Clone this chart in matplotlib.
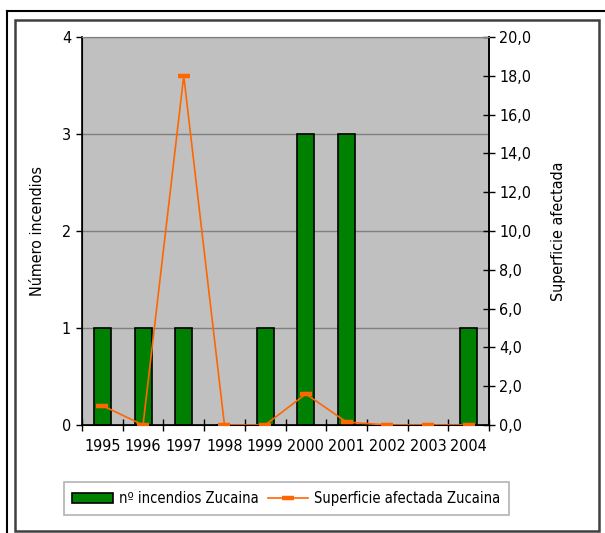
import matplotlib
matplotlib.use("Agg")
import matplotlib.pyplot as plt
from matplotlib import font_manager
from matplotlib.patches import Rectangle
from matplotlib.lines import Line2D
import numpy as np

# data
years = ["1995", "1996", "1997", "1998", "1999", "2000", "2001", "2002", "2003", "2004"]
n_fires = [1, 1, 1, 0, 1, 3, 3, 0, 0, 1]
area = [1.0, 0.0, 18.0, 0.0, 0.0, 1.6, 0.15, 0.0, 0.0, 0.0]
left_ticks = [0, 1, 2, 3, 4]
right_ticks = [0, 2, 4, 6, 8, 10, 12, 14, 16, 18, 20]

GREEN = "#008000"
ORANGE = "#FF6600"
BG = "#C0C0C0"

# the original uses a narrow Arial; pick a condensed face if one is installed
fam, stretch, FS, LFS = "Liberation Sans", "normal", 11, 10
for f in font_manager.fontManager.ttflist:
    narrow = ("Narrow" in f.name or "Condensed" in f.name
              or str(f.stretch) in ("condensed", "semi-condensed"))
    if narrow and "Sans" in f.name and f.style == "normal":
        fam, stretch, FS, LFS = f.name, f.stretch, 11.5, 10.5
        break
plt.rcParams["font.family"] = [fam, "DejaVu Sans"]
plt.rcParams["font.stretch"] = stretch

W, H = 605, 533
fig = plt.figure(figsize=(W / 100, H / 100), dpi=100)

# outer frame lines + inner box
fig.add_artist(Line2D([6.5 / W, 6.5 / W], [0, 1 - 11 / H], color="black", lw=1.5))
fig.add_artist(Line2D([6.5 / W, 1], [1 - 11 / H, 1 - 11 / H], color="black", lw=1.5))
fig.add_artist(Rectangle((14.5 / W, 1 - 531 / H), (599 - 14.5) / W, (531 - 20) / H,
                         fill=False, edgecolor="#404040", lw=1.8))

x0, x1, y0, y1 = 82, 489, 37, 425
ax = fig.add_axes([x0 / W, 1 - y1 / H, (x1 - x0) / W, (y1 - y0) / H])
ax.set_facecolor(BG)
x = np.arange(len(years))

ax.bar(x, n_fires, width=0.42, color=GREEN, edgecolor="black", lw=1.2, zorder=2)
ax.set_xlim(-0.5, len(years) - 0.5)
ax.set_ylim(0, 4)
ax.set_yticks(left_ticks)
ax.set_yticklabels([str(t) for t in left_ticks], fontsize=FS)
ax.yaxis.grid(True, color="#808080", lw=1)
ax.set_axisbelow(True)
ax.tick_params(axis="y", direction="out", length=4, width=1, pad=4)

# x: ticks between categories, labels centred
ax.set_xticks(np.arange(-0.5, len(years), 1.0))
ax.set_xticklabels([])
ax.set_xticks(x, minor=True)
ax.set_xticklabels(years, minor=True, fontsize=FS)
ax.tick_params(axis="x", which="major", direction="inout", length=9, width=1)
ax.tick_params(axis="x", which="minor", length=0, pad=10)

ax.set_ylabel("Número incendios", fontsize=FS, labelpad=12)
for s in ("left", "bottom", "right"):
    ax.spines[s].set_color("black")
    ax.spines[s].set_linewidth(1.2)
ax.spines["top"].set_color("#808080")

ax2 = ax.twinx()
ax2.plot(x, area, color=ORANGE, lw=1.2, marker="_", ms=9, mew=3.2, zorder=3)
ax2.set_ylim(0, 20)
ax2.set_yticks(right_ticks)
ax2.set_yticklabels([f"{t:.1f}".replace(".", ",") for t in right_ticks], fontsize=FS)
ax2.tick_params(axis="y", direction="inout", length=9, width=1, pad=3)
ax2.set_ylabel("Superficie afectada", fontsize=FS, labelpad=14)
ax2.spines["right"].set_color("black")
ax2.spines["right"].set_linewidth(1.2)
ax2.spines["top"].set_color("#808080")

handles = [Rectangle((0, 0), 1, 1, facecolor=GREEN, edgecolor="black", lw=1.2),
           Line2D([], [], color=ORANGE, lw=1.2, marker="_", ms=9, mew=3.2)]
leg = fig.legend(handles, ["nº incendios Zucaina", "Superficie afectada Zucaina"],
                 loc="center", bbox_to_anchor=(286.5 / W, 1 - 498.5 / H), ncol=2,
                 fontsize=LFS, frameon=True, fancybox=False, borderpad=0.6,
                 handlelength=2.8, columnspacing=0.6, handletextpad=0.4)
leg.get_frame().set_edgecolor("#A0A0A0")
leg.get_frame().set_linewidth(1.2)

fig.savefig("out.png", dpi=100)
